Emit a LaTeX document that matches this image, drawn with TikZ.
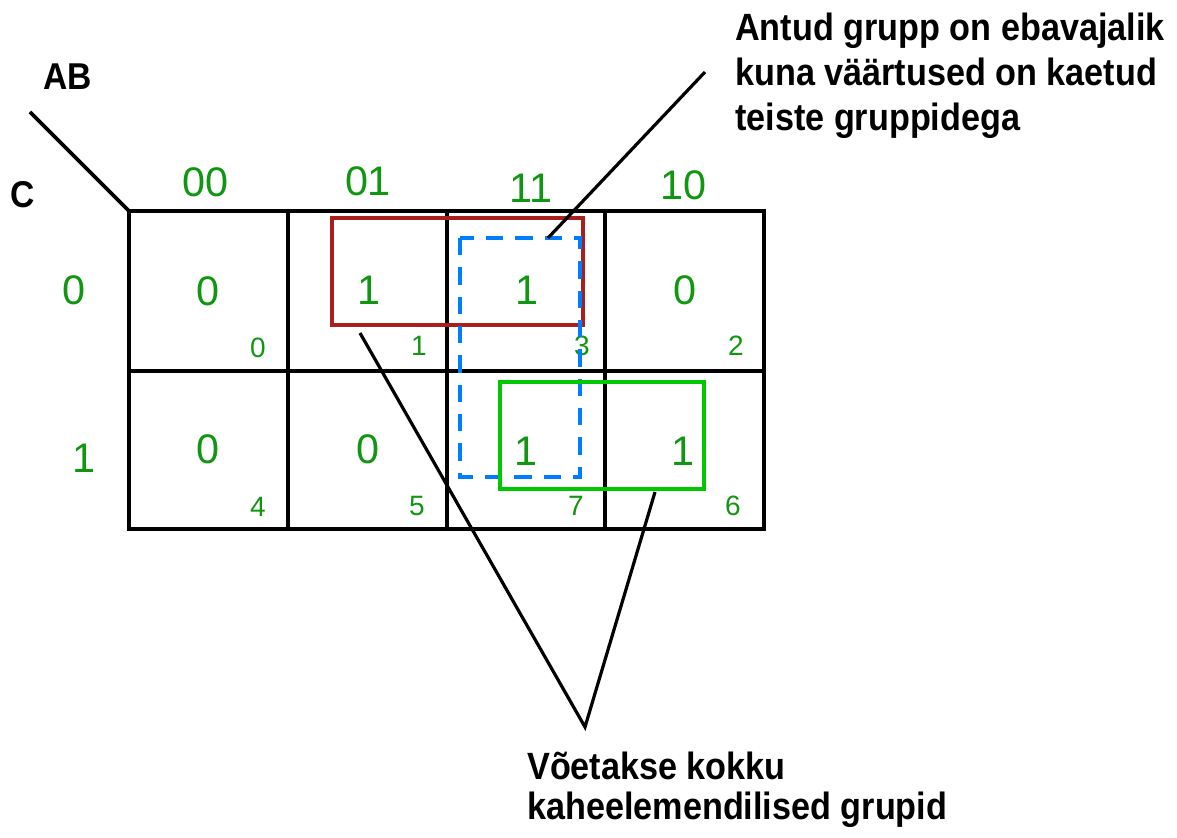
\documentclass[tikz,border=0pt]{standalone}
\usepackage{fontspec}
\setmainfont{Liberation Sans}
\newfontfamily\narrowsans[FakeStretch=0.9]{Liberation Sans}
\definecolor{kgreen}{RGB}{16,150,16}
\definecolor{grpred}{RGB}{170,30,30}
\definecolor{grpblue}{RGB}{0,125,255}
\definecolor{grpgreen}{RGB}{0,200,0}
\begin{document}
\begin{tikzpicture}[x=0.75pt,y=-0.75pt,
  gridline/.style={line width=2.7pt, line cap=rect},
  digit/.style={text=kgreen, font=\fontsize{31}{36}\selectfont, inner sep=0},
  idx/.style={text=kgreen, font=\fontsize{21}{25}\selectfont, inner sep=0},
  lbl/.style={font=\narrowsans\bfseries\fontsize{28}{33}\selectfont, inner sep=0},
  note/.style={font=\narrowsans\bfseries\fontsize{28.5}{33.75}\selectfont, align=left, inner sep=0, anchor=north west},
  pointer/.style={line width=2.4pt}
]
\useasboundingbox (0,0) rectangle (1177,838);

% Karnaugh map grid
\draw[gridline] (129,211) rectangle (764,529);
\draw[gridline] (129,371) -- (764,371);
\draw[gridline] (288,211) -- (288,529);
\draw[gridline] (447,211) -- (447,529);
\draw[gridline] (605,211) -- (605,529);
\coordinate (corner) at (129,211);
\coordinate (diagend) at (30,112);
\draw[pointer, line width=2.7pt] (corner) -- (diagend);

% axis labels
\node[lbl] (ab) at (67.5,77) {AB};
\node[lbl] (c) at (22.5,195) {C};

% column headers
\node[digit] (h00) at (205.5,182.5) {00};
\node[digit] (h01) at (368,181) {01};
\node[digit] (h11) at (531,188) {11};
\node[digit] (h10) at (683,185) {10};
% row headers
\node[digit] (r0) at (74,290) {0};
\node[digit] (r1) at (83.5,458) {1};

% cell values
\node[digit] (v0) at (208,291) {0};
\node[digit] (v1) at (369,290) {1};
\node[digit] (v3) at (527,290) {1};
\node[digit] (v2) at (685,290) {0};
\node[digit] (v4) at (208,449) {0};
\node[digit] (v5) at (368,449) {0};
\node[digit] (v7) at (526,451) {1};
\node[digit] (v6) at (683,451) {1};

% cell indices
\node[idx] (i0) at (258,348) {0};
\node[idx] (i1) at (419,346) {1};
\node[idx] (i3) at (582,346) {3};
\node[idx] (i2) at (736,346) {2};
\node[idx] (i4) at (258,507) {4};
\node[idx] (i5) at (417,506) {5};
\node[idx] (i7) at (576,506) {7};
\node[idx] (i6) at (733,506) {6};

% groups
\draw[grpred, line width=2.6pt] (332,218) rectangle (583,325);
\draw[grpblue, line width=3.2pt, dash pattern=on 13pt off 9pt] (460,238) rectangle (580,477);
\draw[grpgreen, line width=3.6pt] (500,382) rectangle (704,489);

% connector end points
\coordinate (bluept) at (548,238);
\coordinate (topend) at (705,72);
\coordinate (redpt) at (360,333);
\coordinate (greenpt) at (655,492);
\coordinate (tip) at (585,727);

\draw[pointer] (bluept) -- (topend);
\draw[pointer, line join=miter] (redpt) -- (tip) -- (greenpt);

% annotations
\node[note] (notetop) at (735,13) {Antud grupp on ebavajalik\\kuna väärtused on kaetud\\teiste gruppidega};
\node[note, font=\narrowsans\bfseries\fontsize{28.5}{30}\selectfont] (notebot) at (527,752) {Võetakse kokku\\kaheelemendilised grupid};
\end{tikzpicture}
\end{document}
